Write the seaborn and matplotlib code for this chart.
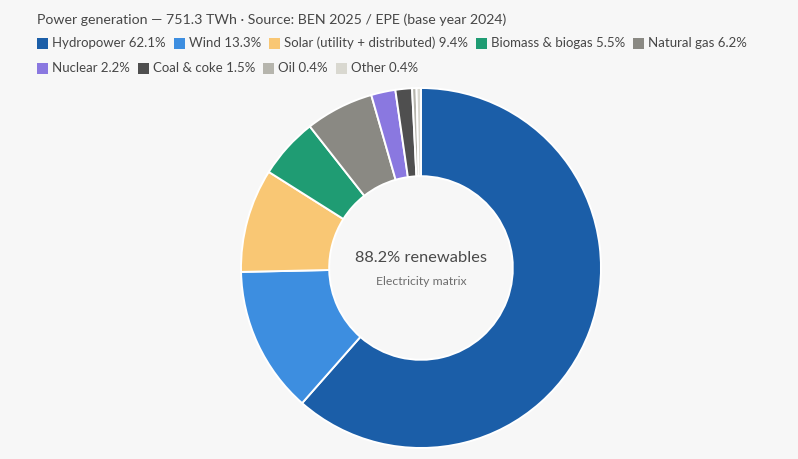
import matplotlib
matplotlib.use("Agg")
import matplotlib.pyplot as plt
import seaborn as sns
from matplotlib.patches import Rectangle

# Electricity generation by source, share of total (%)
sources = ["Hydropower", "Wind", "Solar (utility + distributed)", "Biomass & biogas",
           "Natural gas", "Nuclear", "Coal & coke", "Oil", "Other"]
shares = [62.1, 13.3, 9.4, 5.5, 6.2, 2.2, 1.5, 0.4, 0.4]
colors = ["#1b5ea8", "#3d8ee0", "#f9c774", "#1f9c73", "#8a8983",
          "#8a78e0", "#4f4f4f", "#b6b5ad", "#d9d8d0"]
title = "Power generation \u2014 751.3 TWh \u00b7 Source: BEN 2025 / EPE (base year 2024)"
center_main = "88.2% renewables"
center_sub = "Electricity matrix"

sns.set_theme(style="white")
plt.rcParams["font.family"] = ["Lato", "DejaVu Sans"]

BG = "#f7f7f7"
W, H = 798, 459
fig = plt.figure(figsize=(W / 100, H / 100), dpi=100, facecolor=BG)

# Donut
cx, cy, r = 421, 268, 180
ax = fig.add_axes([(cx - r) / W, (H - cy - r) / H, 2 * r / W, 2 * r / H])
ax.set_facecolor(BG)
palette = sns.color_palette(colors)
ax.pie(shares, colors=palette, startangle=90, counterclock=False, radius=1.0,
       wedgeprops=dict(width=0.49, edgecolor="white", linewidth=1.4))
ax.set_xlim(-1, 1)
ax.set_ylim(-1, 1)
ax.set_aspect("equal")
ax.axis("off")
ax.text(0, 0.056, center_main, ha="center", va="center", fontsize=11.8, color="#4a4a4a")
ax.text(0, -0.075, center_sub, ha="center", va="center", fontsize=8.8, color="#6e6e6e")

# Title and legend rows
fig.text(37 / W, 1 - 20 / H, title, ha="left", va="center", fontsize=10.2, color="#474747")

renderer = fig.canvas.get_renderer()
rows = [list(range(0, 5)), list(range(5, 9))]
row_y = [43, 68]
sq = 11
for row, y in zip(rows, row_y):
    x = 37
    for i in row:
        fig.patches.append(Rectangle((x / W, 1 - (y + sq / 2) / H), sq / W, sq / H,
                                     transform=fig.transFigure, facecolor=colors[i],
                                     edgecolor="none"))
        t = fig.text((x + sq + 4) / W, 1 - y / H, f"{sources[i]} {shares[i]}%",
                     ha="left", va="center", fontsize=9.5, color="#474747")
        bb = t.get_window_extent(renderer)
        x = bb.x1 + 8

fig.savefig("out.png", dpi=100, facecolor=BG)
